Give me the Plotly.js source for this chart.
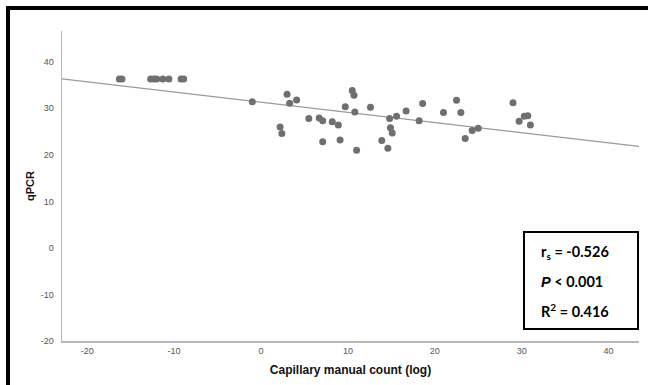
<!DOCTYPE html>
<html>
<head>
<meta charset="utf-8">
<script src="https://cdn.plot.ly/plotly-3.0.1.min.js"></script>
<style>
  html, body { margin: 0; padding: 0; background: #fff; }
  #chart { width: 648px; height: 385px; }
</style>
</head>
<body>
<div id="chart"></div>
<script>
// Capillary manual count (log) vs qPCR, one point per sample
const capillaryLog = [
  -16.3, -16.0, -12.7, -12.3, -12.0, -11.3, -10.6, -9.2, -8.9,
  -1.0, 2.2, 2.4, 3.0, 3.3, 4.1, 5.5, 6.7, 7.1, 7.1, 8.2, 8.9, 9.1,
  9.7, 10.5, 10.7, 10.8, 11.0, 12.6, 13.9, 14.6, 14.8, 14.9, 15.1, 15.6,
  16.7, 18.2, 18.6, 21.0, 22.5, 23.0, 23.5, 24.3, 25.0,
  29.0, 29.7, 30.3, 30.7, 31.0
];
const qpcrValues = [
  36.3, 36.3, 36.3, 36.3, 36.3, 36.3, 36.3, 36.3, 36.3,
  31.4, 26.0, 24.6, 33.0, 31.1, 31.8, 27.8, 27.9, 27.3, 22.8, 27.1, 26.4, 23.2,
  30.3, 33.8, 32.8, 29.2, 21.0, 30.2, 23.1, 21.4, 27.8, 25.8, 24.7, 28.3,
  29.4, 27.3, 31.0, 29.1, 31.7, 29.1, 23.5, 25.2, 25.7,
  31.2, 27.2, 28.3, 28.4, 26.4
];

// Linear fit line across the x range
const fitX = [-22.9, 43.5];
const fitY = [36.3, 21.8];

// Statistics shown in the inset box
const statLines = [
  'r<sub>s</sub> = -0.526',
  '<i><span style="font-family:\'Liberation Sans\'">P</span></i> &lt; 0.001',
  'R<sup>2</sup> = 0.416'
];

const xTicks = [-20, -10, 0, 10, 20, 30, 40];
const xTickText = ['-20', '-10', '0', '10', '20', '30', '40'];
const yTicks = [-20, -10, 0, 10, 20, 30, 40];
const yTickText = ['-20', '-10', '0', '10', '20', '30', '40'];

const traces = [
  {
    x: fitX, y: fitY, type: 'scatter', mode: 'lines',
    line: { color: '#9a9a9a', width: 1.2 },
    hoverinfo: 'skip', showlegend: false
  },
  {
    x: capillaryLog, y: qpcrValues, type: 'scatter', mode: 'markers',
    marker: { color: '#6f6f6f', size: 7 },
    showlegend: false
  }
];

const axisCommon = {
  showgrid: false, zeroline: false,
  showline: true, linecolor: '#b8b8b8', linewidth: 1.5,
  ticks: '',
  tickfont: { family: 'Liberation Sans, Arial, sans-serif', size: 9, color: '#555' },
  tickmode: 'array'
};

const statAnnotations = statLines.map((t, i) => ({
  xref: 'paper', yref: 'paper',
  x: 0.826, y: 0.285 - i * 0.093,
  xanchor: 'left', yanchor: 'middle',
  text: '<b>' + t + '</b>',
  showarrow: false,
  font: { family: 'Lato, Carlito, sans-serif', size: 14.5, color: '#000' }
}));

const layout = {
  width: 648, height: 385,
  margin: { l: 62, r: 9, t: 31, b: 44 },
  paper_bgcolor: '#fff', plot_bgcolor: '#fff',
  xaxis: Object.assign({}, axisCommon, {
    range: [-22.9, 43.5], tickvals: xTicks, ticktext: xTickText,
    ticklabelstandoff: 1,
    title: { text: '<b>Capillary manual count (log)</b>', standoff: 10,
      font: { family: 'Liberation Sans, Arial, sans-serif', size: 12, color: '#111' } }
  }),
  yaxis: Object.assign({}, axisCommon, {
    range: [-20, 46.6], tickvals: yTicks, ticktext: yTickText,
    ticklabelstandoff: 5,
    title: { text: '<b>qPCR</b>', standoff: 4,
      font: { family: 'Liberation Sans, Arial, sans-serif', size: 11, color: '#111' } }
  }),
  shapes: [
    // outer frame (left and top edges)
    {
      type: 'path', xref: 'paper', yref: 'paper',
      path: 'M -0.0936,-0.2 L -0.0936,1.0742 L 1.1,1.0742',
      line: { color: '#000', width: 4 }
    },
    // statistics box
    {
      type: 'rect', xref: 'paper', yref: 'paper',
      x0: 0.8007, x1: 0.9983, y0: 0.0387, y1: 0.3516,
      line: { color: '#000', width: 2 }, fillcolor: '#fff', layer: 'above'
    }
  ],
  annotations: statAnnotations
};

Plotly.newPlot('chart', traces, layout, { staticPlot: true, displayModeBar: false });
</script>
</body>
</html>
